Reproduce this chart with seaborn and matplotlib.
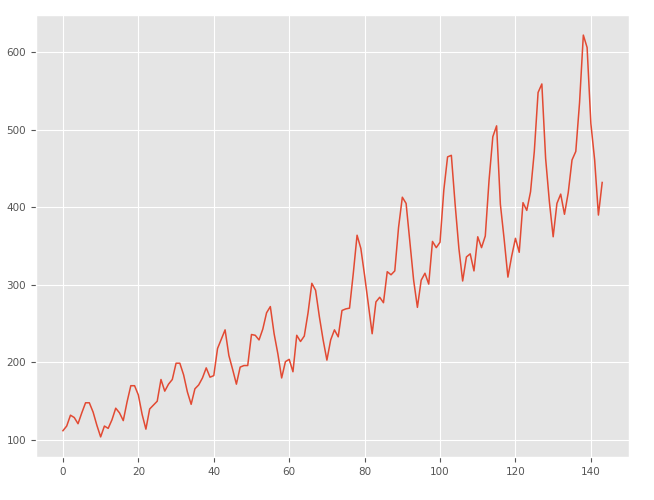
import matplotlib
matplotlib.use("Agg")
import matplotlib.pyplot as plt
import seaborn as sns
import numpy as np
import pandas as pd

passengers = [
    112, 118, 132, 129, 121, 135, 148, 148, 136, 119, 104, 118,
    115, 126, 141, 135, 125, 149, 170, 170, 158, 133, 114, 140,
    145, 150, 178, 163, 172, 178, 199, 199, 184, 162, 146, 166,
    171, 180, 193, 181, 183, 218, 230, 242, 209, 191, 172, 194,
    196, 196, 236, 235, 229, 243, 264, 272, 237, 211, 180, 201,
    204, 188, 235, 227, 234, 264, 302, 293, 259, 229, 203, 229,
    242, 233, 267, 269, 270, 315, 364, 347, 312, 274, 237, 278,
    284, 277, 317, 313, 318, 374, 413, 405, 355, 306, 271, 306,
    315, 301, 356, 348, 355, 422, 465, 467, 404, 347, 305, 336,
    340, 318, 362, 348, 363, 435, 491, 505, 404, 359, 310, 337,
    360, 342, 406, 396, 420, 472, 548, 559, 463, 407, 362, 405,
    417, 391, 419, 461, 472, 535, 622, 606, 508, 461, 390, 432,
]
index = list(range(len(passengers)))

plt.style.use("ggplot")
df = pd.DataFrame({"idx": index, "passengers": passengers})

fig, ax = plt.subplots(figsize=(6.54, 5.0), dpi=100)
sns.lineplot(data=df, x="idx", y="passengers", ax=ax, color="#E24A33", linewidth=1.1)
ax.set_xlabel("")
ax.set_ylabel("")
ax.tick_params(labelsize=7.5)
fig.subplots_adjust(left=0.055, right=0.962, top=0.97, bottom=0.086)
fig.savefig("out.png", dpi=100)
